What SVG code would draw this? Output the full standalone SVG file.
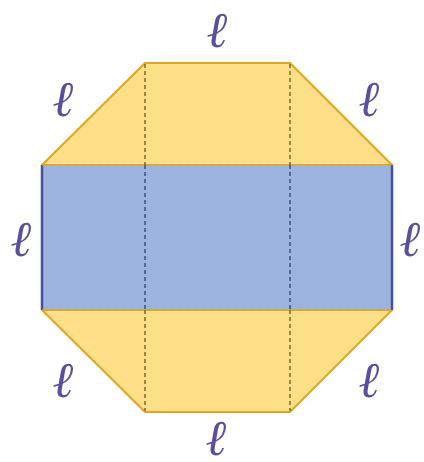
<svg xmlns="http://www.w3.org/2000/svg" width="424" height="462" viewBox="0 0 424 462">
<style>
.yel{fill:#fddf88;stroke:#dfa623;stroke-width:2;stroke-linejoin:round}
.blu{fill:#9db3df;stroke:none}
.side{stroke:#44519a;stroke-width:2.5}
.dy{stroke:#dfa623;stroke-width:1.5;stroke-dasharray:5,3}
.dk{stroke:#6b5520;stroke-width:1.3;stroke-dasharray:4,3}
.db{stroke:#2f3f72;stroke-width:1.3;stroke-dasharray:4,3}
.lbl{font-family:"DejaVu Serif","Liberation Serif",serif;font-style:italic;font-weight:bold;font-size:50px;fill:#5a4f9c;text-anchor:middle}
</style>
<g id="top-trapezoid"><polygon class="yel" points="42,165 145,63 290,63 392,165"/></g>
<g id="bottom-trapezoid"><polygon class="yel" points="42,310 145,412 290,412 392,310"/></g>
<g id="middle-rect">
<rect class="blu" x="42" y="165" width="350" height="145"/>
<line class="side" x1="42" y1="165" x2="42" y2="310"/>
<line class="side" x1="392" y1="165" x2="392" y2="310"/>
<line class="dy" x1="42" y1="165" x2="392" y2="165"/>
<line class="dy" x1="42" y1="310" x2="392" y2="310"/>
</g>
<g id="connectors">
<line class="dk" x1="145" y1="64" x2="145" y2="165"/>
<line class="dk" x1="290" y1="64" x2="290" y2="165"/>
<line class="db" x1="145" y1="165" x2="145" y2="310"/>
<line class="db" x1="290" y1="165" x2="290" y2="310"/>
<line class="dk" x1="145" y1="310" x2="145" y2="411"/>
<line class="dk" x1="290" y1="310" x2="290" y2="411"/>
</g>
<g id="labels">
<text class="lbl" x="218" y="47">ℓ</text>
<text class="lbl" x="64" y="116">ℓ</text>
<text class="lbl" x="370" y="116">ℓ</text>
<text class="lbl" x="22" y="256">ℓ</text>
<text class="lbl" x="411" y="256">ℓ</text>
<text class="lbl" x="64" y="397">ℓ</text>
<text class="lbl" x="370" y="397">ℓ</text>
<text class="lbl" x="217" y="455">ℓ</text>
</g>
</svg>
